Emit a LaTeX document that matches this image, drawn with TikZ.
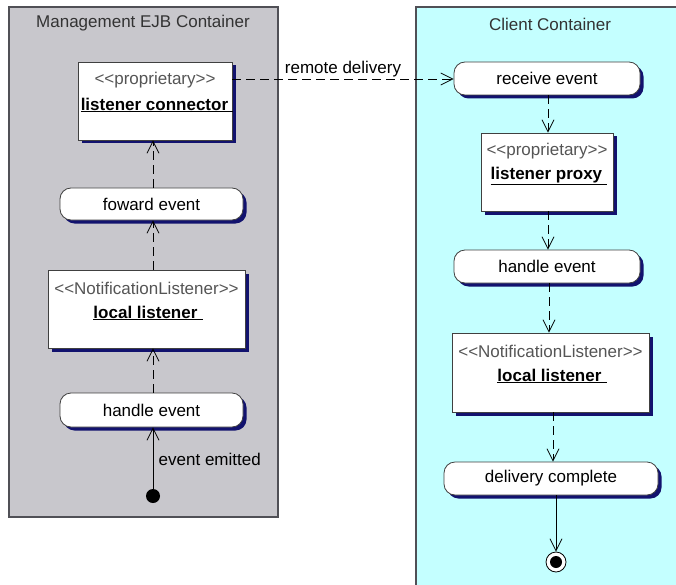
\documentclass[tikz,border=0pt]{standalone}
\usepackage{fontspec}
\setmainfont{Liberation Sans}
\usetikzlibrary{arrows.meta,shadows}

\definecolor{mgmtgray}{RGB}{200,199,204}
\definecolor{clientcyan}{RGB}{196,255,255}
\definecolor{framegray}{RGB}{80,80,86}
\definecolor{shadownavy}{RGB}{18,18,110}
\definecolor{stereogray}{RGB}{85,85,85}

\newcommand{\diagfont}{\fontsize{17}{20}\selectfont}
% stereotype brackets written so that no guillemet ligature is formed
\newcommand{\stereotxt}[1]{<{}<#1>{}>}
\newcommand{\objlabel}[1]{\underline{#1\hspace{0.3em}}}

\tikzset{
  container/.style={draw=framegray, line width=1.2pt},
  title/.style={text=black!80},
  objbox/.style={draw=black!75, fill=white, line width=0.8pt, inner sep=0pt,
    drop shadow={shadow xshift=3.5pt, shadow yshift=-3.5pt, fill=shadownavy, opacity=1}},
  action/.style={objbox, rounded corners=11pt},
  stereo/.style={text=stereogray},
  objname/.style={font=\diagfont\bfseries},
  dep/.style={dash pattern=on 9pt off 5pt, line width=0.8pt,
    -{Straight Barb[length=12pt,width=12pt,line width=0.8pt]}},
  flow/.style={line width=0.8pt,
    -{Straight Barb[length=12pt,width=12pt,line width=0.8pt]}},
}

\begin{document}
\begin{tikzpicture}[x=1pt, y=-1pt, font=\diagfont]
  \useasboundingbox (0,0) rectangle (676,585);
  \fill[white] (0,0) rectangle (676,585);

  % swimlane containers
  \draw[container, fill=mgmtgray] (9,7) rectangle (278,517);
  \draw[container, fill=clientcyan] (416,7) rectangle (700,610);
  \node[title] (mgmttitle) at (143,23) {Management EJB Container};
  \node[title] (clienttitle) at (550,24) {Client Container};

  % management side
  \node[objbox, minimum width=154pt, minimum height=78pt] (lc) at (155,101) {};
  \node[stereo] (lcst) at (155,80) {\stereotxt{proprietary}};
  \node[objname] (lcname) at (157,105) {\objlabel{listener connector}};

  \node[action, minimum width=183pt, minimum height=32pt] (fe) at (151.5,204) {foward event};

  \node[objbox, minimum width=197pt, minimum height=78pt] (ll) at (146.5,309) {};
  \node[stereo] (llst) at (146.5,288) {\stereotxt{NotificationListener}};
  \node[objname] (llname) at (148,313) {\objlabel{local listener}};

  \node[action, minimum width=183pt, minimum height=34pt] (he) at (151.5,410) {handle event};

  \node[circle, fill=black, minimum size=14pt, inner sep=0pt] (start) at (153,496) {};

  % client side
  \node[action, minimum width=186pt, minimum height=33pt] (re) at (547,78.5) {receive event};

  \node[objbox, minimum width=132pt, minimum height=78pt] (lp) at (547,172) {};
  \node[stereo] (lpst) at (547,151) {\stereotxt{proprietary}};
  \node[objname] (lpname) at (549,176) {\objlabel{listener proxy}};

  \node[action, minimum width=186pt, minimum height=33pt] (he2) at (547,266.5) {handle event};

  \node[objbox, minimum width=197pt, minimum height=79pt] (ll2) at (550.5,372.5) {};
  \node[stereo] (ll2st) at (550.5,351) {\stereotxt{NotificationListener}};
  \node[objname] (ll2name) at (552,376) {\objlabel{local listener}};

  \node[action, minimum width=214pt, minimum height=33pt] (dc) at (551,478.5) {delivery complete};

  \node[circle, draw=black, fill=white, line width=0.8pt, minimum size=20pt, inner sep=0pt] (endring) at (556,562) {};
  \node[circle, fill=black, minimum size=12pt, inner sep=0pt] (enddot) at (556,562) {};

  % guide coordinates for the vertical connectors
  \coordinate (lx) at (153,0);
  \coordinate (rxa) at (548,0);
  \coordinate (rxb) at (549,0);
  \coordinate (rxc) at (553,0);
  \coordinate (rxd) at (556,0);
  \coordinate (rdy) at (0,79);

  % management flow
  \draw[flow] (start) -- (he.south -| lx)
    node[pos=0.48, right=2pt] (emitted) {event emitted};
  \draw[dep] (he.north -| lx) -- (ll.south -| lx);
  \draw[dep] (ll.north -| lx) -- (fe.south -| lx);
  \draw[dep] (fe.north -| lx) -- (lc.south -| lx);

  % remote delivery
  \draw[dep] (lc.east |- rdy) -- (re.west |- rdy)
    node[midway, above=-2pt] (remote) {remote delivery};

  % client flow
  \draw[dep] (re.south -| rxa) -- (lp.north -| rxa);
  \draw[dep] (lp.south -| rxa) -- (he2.north -| rxa);
  \draw[dep] (he2.south -| rxb) -- (ll2.north -| rxb);
  \draw[dep] (ll2.south -| rxc) -- (dc.north -| rxc);
  \draw[flow] (dc.south -| rxd) -- (endring.north);
\end{tikzpicture}
\end{document}
